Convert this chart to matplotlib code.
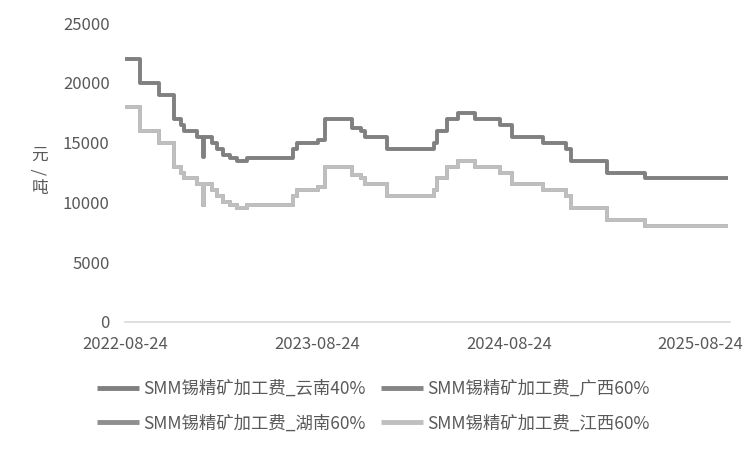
import matplotlib
matplotlib.use("Agg")
import matplotlib.pyplot as plt
import numpy as np
import pandas as pd

plt.rcParams['font.family'] = ['Noto Sans CJK SC', 'DejaVu Sans']

# change-point dates (values hold until the next date)
dates = ["2022-08-24", "2022-09-22", "2022-10-28", "2022-11-25", "2022-12-08",
         "2022-12-14", "2023-01-08", "2023-01-19", "2023-01-21", "2023-02-06",
         "2023-02-16", "2023-02-26", "2023-03-12", "2023-03-25", "2023-04-13",
         "2023-07-10", "2023-07-17", "2023-08-26", "2023-09-09", "2023-10-30",
         "2023-11-16", "2023-11-24", "2024-01-05", "2024-04-03", "2024-04-09",
         "2024-04-28", "2024-05-19", "2024-06-20", "2024-08-07", "2024-08-30",
         "2024-10-28", "2024-12-11", "2024-12-20", "2025-02-27", "2025-05-10",
         "2025-10-16"]

yunnan40 = [22000, 20000, 19000, 17000, 16500,
            16000, 15500, 13800, 15500, 15000,
            14500, 14000, 13750, 13500, 13750,
            14500, 15000, 15250, 17000, 16250,
            16000, 15500, 14500, 15000, 16000,
            17000, 17500, 17000, 16500, 15500,
            15000, 14500, 13500, 12500, 12000,
            12000]

guangxi60 = [18000, 16000, 15000, 13000, 12500,
             12000, 11500, 9800, 11500, 11000,
             10500, 10000, 9750, 9500, 9750,
             10500, 11000, 11250, 13000, 12250,
             12000, 11500, 10500, 11000, 12000,
             13000, 13500, 13000, 12500, 11500,
             11000, 10500, 9500, 8500, 8000,
             8000]

hunan60 = [18000, 16000, 15000, 13000, 12500,
           12000, 11500, 9800, 11500, 11000,
           10500, 10000, 9750, 9500, 9750,
           10500, 11000, 11250, 13000, 12250,
           12000, 11500, 10500, 11000, 12000,
           13000, 13500, 13000, 12500, 11500,
           11000, 10500, 9500, 8500, 8000,
           8000]

jiangxi60 = [18000, 16000, 15000, 13000, 12500,
             12000, 11500, 9800, 11500, 11000,
             10500, 10000, 9750, 9500, 9750,
             10500, 11000, 11250, 13000, 12250,
             12000, 11500, 10500, 11000, 12000,
             13000, 13500, 13000, 12500, 11500,
             11000, 10500, 9500, 8500, 8000,
             8000]

labels = ["SMM锡精矿加工费_云南40%", "SMM锡精矿加工费_广西60%",
          "SMM锡精矿加工费_湖南60%", "SMM锡精矿加工费_江西60%"]
colors = ["#808080", "#858585", "#8f8f8f", "#bfbfbf"]

xticks = ["2022-08-24", "2023-08-24", "2024-08-24", "2025-08-24"]
yticks = [0, 5000, 10000, 15000, 20000, 25000]

d = pd.to_datetime(dates)

fig = plt.figure(figsize=(7.5, 4.5), dpi=100)
ax = fig.add_axes([125/750, 1-322/450, 605/750, 299/450])

series = [yunnan40, guangxi60, hunan60, jiangxi60]
lines = []
for s, lab, c in zip(series, labels, colors):
    ln, = ax.plot(d, s, drawstyle='steps-post', color=c, lw=2.8, label=lab,
                  solid_joinstyle='round', solid_capstyle='butt')
    lines.append(ln)

ax.set_ylim(0, 25000)
ax.set_yticks(yticks)
ax.set_xlim(pd.Timestamp("2022-08-24"), pd.Timestamp("2025-10-19"))
ax.set_xticks(pd.to_datetime(xticks))
ax.set_xticklabels(xticks)
ax.tick_params(axis='both', length=0, labelsize=12, colors='#595959')
ax.tick_params(axis='y', pad=11)
ax.tick_params(axis='x', pad=10)
for sp in ['top', 'right', 'left']:
    ax.spines[sp].set_visible(False)
ax.spines['bottom'].set_color('#d9d9d9')
ax.spines['bottom'].set_linewidth(1.2)

# y label stacked vertically: 元 / 吨
ylab_x = 40/750
fig.text(ylab_x, 1-155/450, "元", fontsize=12, color='#595959',
         ha='center', va='center')
fig.text(ylab_x, 1-172/450, "/", fontsize=12, color='#595959',
         ha='center', va='center', rotation=90)
fig.text(ylab_x, 1-189/450, "吨", fontsize=12, color='#595959',
         ha='center', va='center')

# row-wise order: matplotlib fills columns first
order = [0, 2, 1, 3]
leg = fig.legend([lines[i] for i in order], [labels[i] for i in order], ncol=2,
                 loc='upper left', bbox_to_anchor=(97/750, 1-380/450), frameon=False,
                 fontsize=12.5, handlelength=2.4, handletextpad=0.25,
                 columnspacing=0.9, labelspacing=0.95, borderpad=0, borderaxespad=0)
for t in leg.get_texts():
    t.set_color('#595959')
for l in leg.get_lines():
    l.set_linewidth(3.5)

fig.savefig("out.png", dpi=100)
